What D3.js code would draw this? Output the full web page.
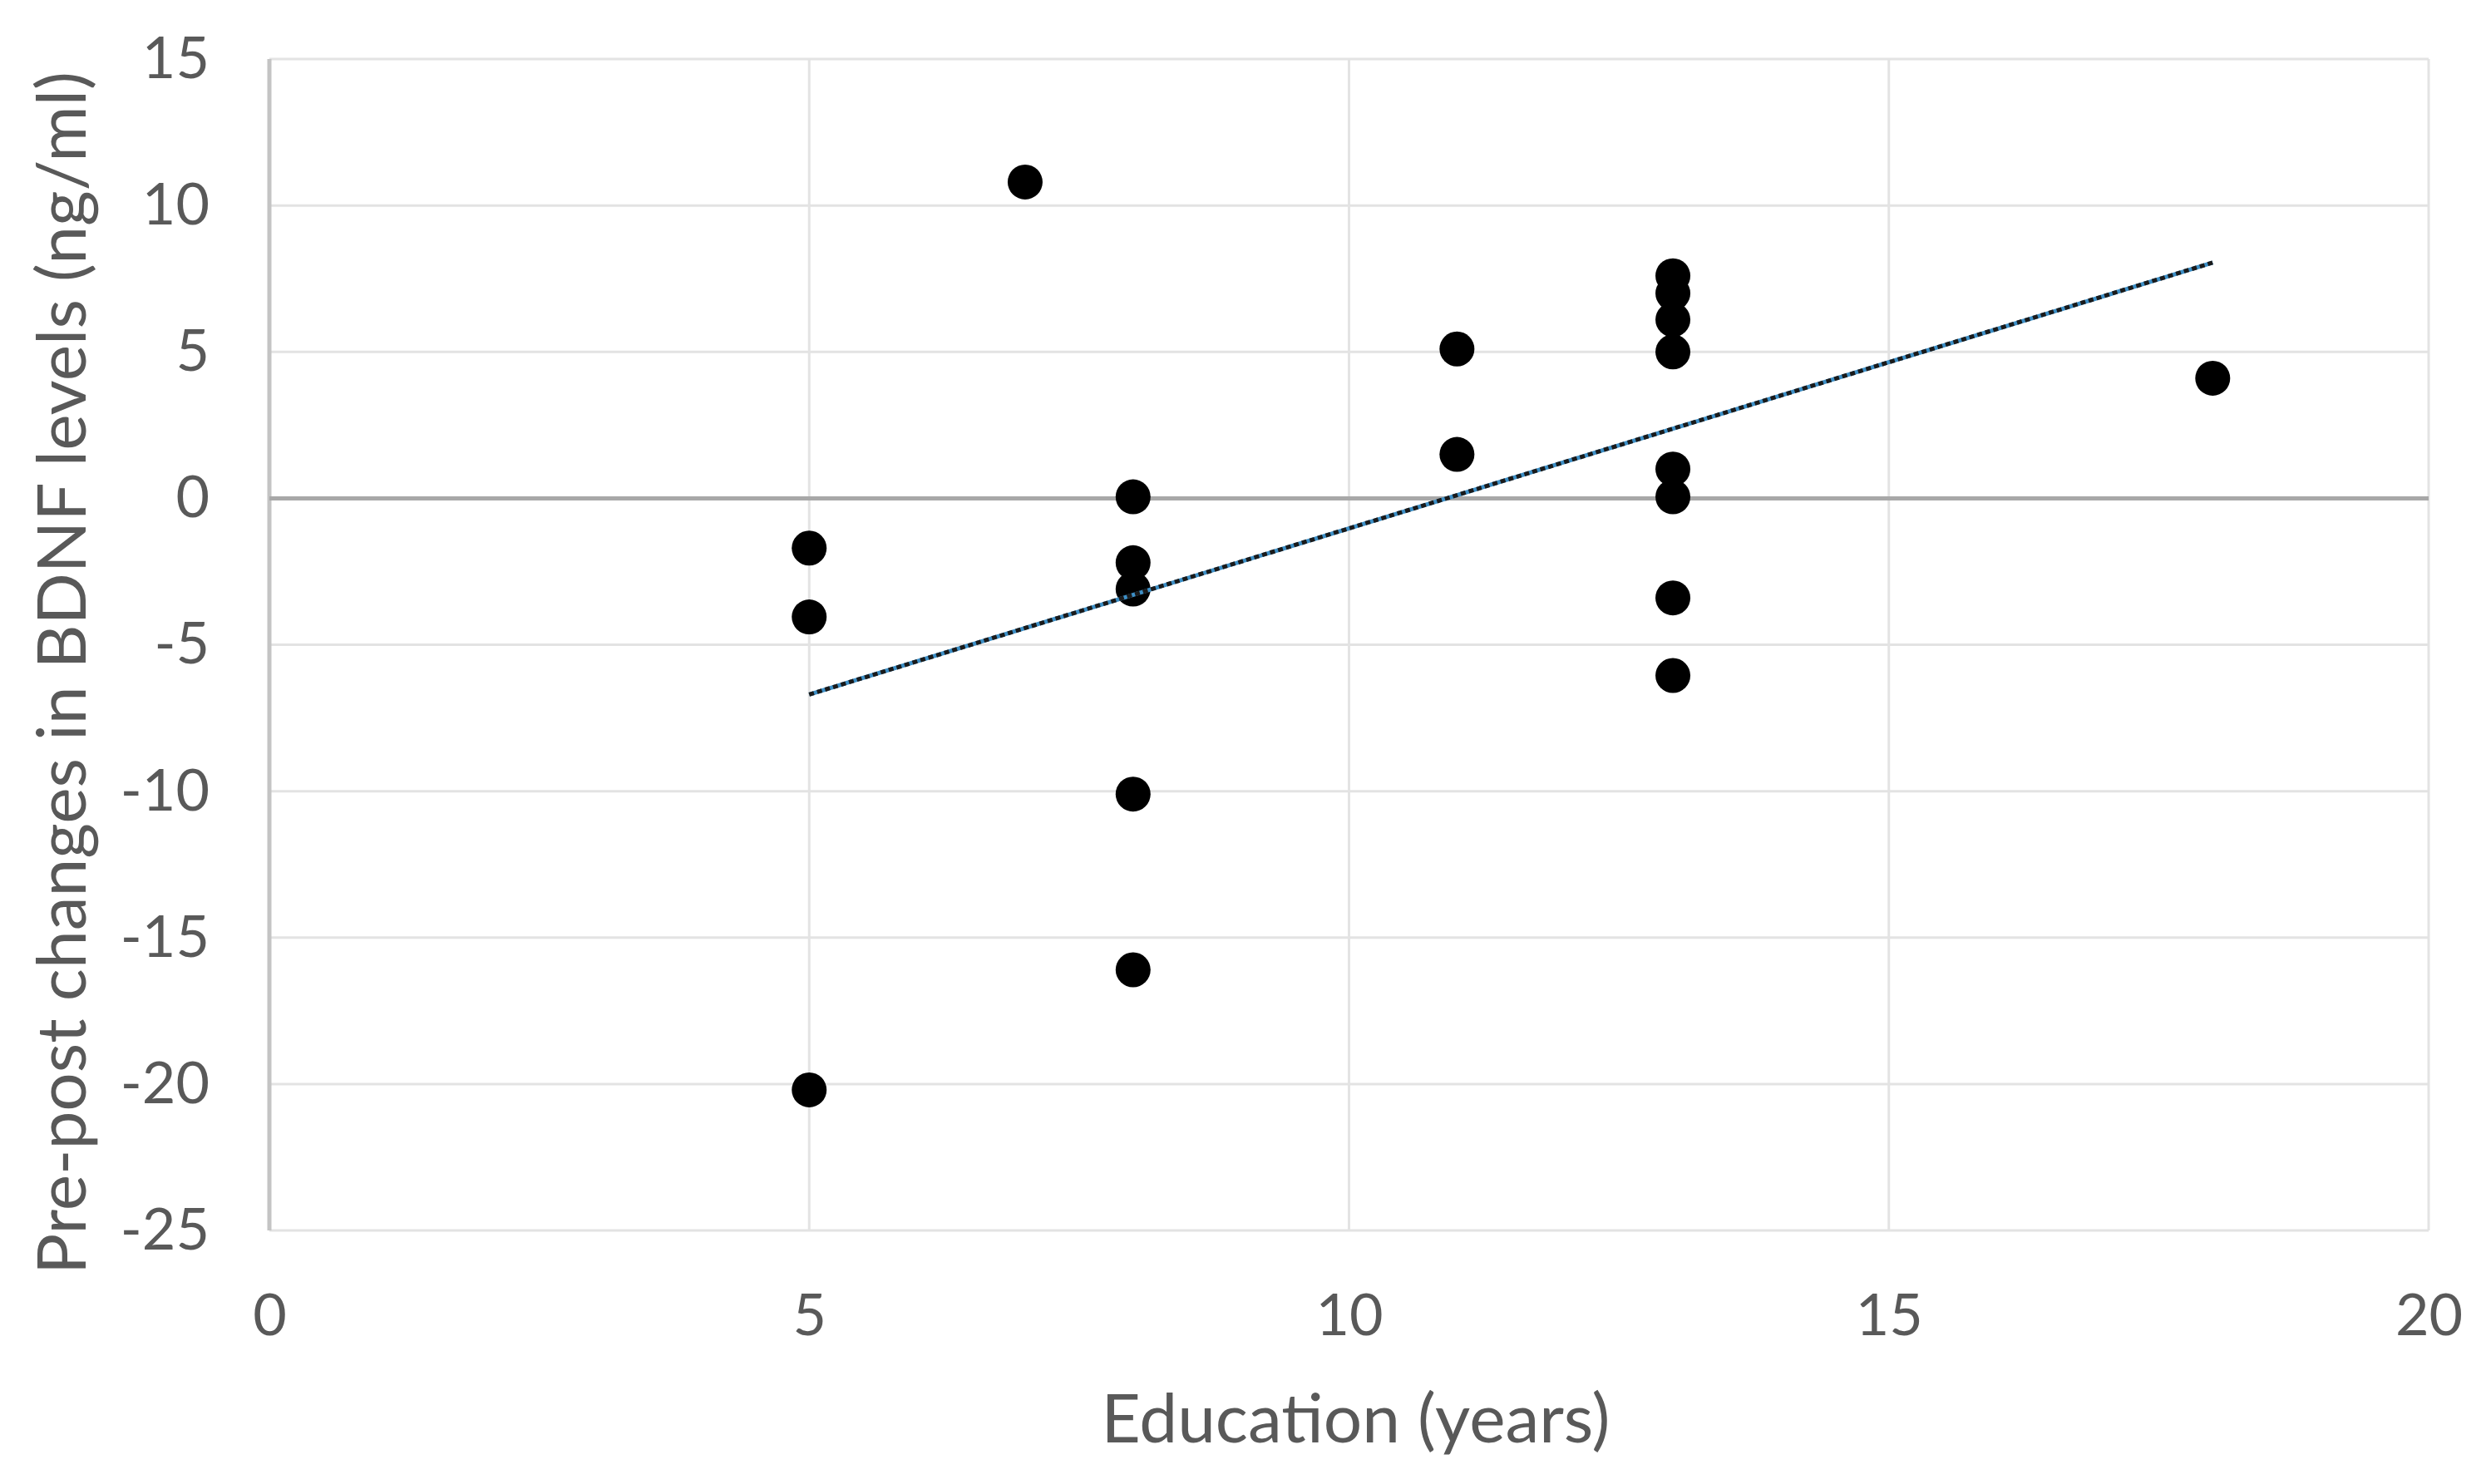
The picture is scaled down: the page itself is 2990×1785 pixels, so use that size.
<!DOCTYPE html>
<html>
<head>
<meta charset="utf-8">
<script src="https://cdn.jsdelivr.net/npm/d3@7"></script>
<style>
  body { margin: 0; background: #fff; }
  .tick text { font-family: Lato, "Open Sans", sans-serif; fill: #595959; }
</style>
</head>
<body>
<div id="svgcontainer"></div>
<script>
// education (years) and pre-post change in BDNF (ng/ml)
var eduYears = [5, 5, 5, 7, 8, 8, 8, 8, 8, 11, 11, 13, 13, 13, 13, 13, 13, 13, 13, 18];
var bdnfChange = [-1.7, -4.05, -20.2, 10.8, 0.05, -2.2, -3.1, -10.1, -16.1, 5.1, 1.5,
                  7.6, 7.0, 6.1, 5.0, 1.0, 0.05, -3.4, -6.05, 4.1];
// linear trendline end points as drawn
var trendX = [5, 18];
var trendY = [-6.7, 8.05];
var xTicks = [0, 5, 10, 15, 20];
var yTicks = [15, 10, 5, 0, -5, -10, -15, -20, -25];

var margin = {top: 71, right: 69, bottom: 305, left: 324},
    W = 2990, H = 1785,
    width = W - margin.left - margin.right,
    height = H - margin.top - margin.bottom;

var svg = d3.select("div#svgcontainer")
  .append("svg")
  .attr("width", W)
  .attr("height", H);
var g = svg.append("g")
  .attr("transform", "translate(" + margin.left + "," + margin.top + ")");

var x = d3.scaleLinear().domain([0, 20]).range([0, width]);
var y = d3.scaleLinear().domain([-25, 15]).range([height, 0]);
var fmt = function(d){ return String(d); };   // plain hyphen for negatives

// gridlines
g.append("g").selectAll("line.hg")
  .data(yTicks.filter(function(d){ return d !== 0; }))
  .enter().append("line")
  .attr("x1", 0).attr("x2", width)
  .attr("y1", function(d){ return y(d); }).attr("y2", function(d){ return y(d); })
  .style("stroke", "#e3e3e3").style("stroke-width", 3);
g.append("g").selectAll("line.vg")
  .data(xTicks.filter(function(d){ return d !== 0; }))
  .enter().append("line")
  .attr("y1", 0).attr("y2", height)
  .attr("x1", function(d){ return x(d); }).attr("x2", function(d){ return x(d); })
  .style("stroke", "#e3e3e3").style("stroke-width", 3);

// left axis line and zero line
g.append("line")
  .attr("x1", x(0)).attr("x2", x(0)).attr("y1", 0).attr("y2", height)
  .style("stroke", "#c4c4c4").style("stroke-width", 5);
g.append("line")
  .attr("x1", 0).attr("x2", width).attr("y1", y(0)).attr("y2", y(0))
  .style("stroke", "#a8a8a8").style("stroke-width", 5);

// axes: labels only
var xAxis = g.append("g")
  .attr("transform", "translate(0," + height + ")")
  .call(d3.axisBottom(x).tickValues(xTicks).tickFormat(fmt).tickSize(0).tickPadding(76));
xAxis.select(".domain").remove();
xAxis.selectAll("text").style("font-size", "70px");

var yAxis = g.append("g")
  .call(d3.axisLeft(y).tickValues(yTicks).tickFormat(fmt).tickSize(0).tickPadding(72));
yAxis.select(".domain").remove();
yAxis.selectAll("text").style("font-size", "70px");

// axis titles
g.append("text")
  .attr("x", width / 2 + 8)
  .attr("y", height + 255)
  .attr("text-anchor", "middle")
  .style("font-family", "Lato, 'Open Sans', sans-serif")
  .style("font-size", "82px")
  .style("fill", "#595959")
  .text("Education (years)");
g.append("text")
  .attr("transform", "rotate(-90)")
  .attr("x", -(y(-5) + 34))
  .attr("y", -250)
  .attr("dy", "0.35em")
  .attr("text-anchor", "middle")
  .style("font-family", "Lato, 'Open Sans', sans-serif")
  .style("font-size", "82px")
  .style("fill", "#595959")
  .text("Pre-post changes in BDNF levels (ng/ml)");

// points
var pts = eduYears.map(function(e, i){ return {x: e, y: bdnfChange[i]}; });
g.append("g").selectAll("circle")
  .data(pts)
  .enter().append("circle")
  .attr("cx", function(d){ return x(d.x); })
  .attr("cy", function(d){ return y(d.y); })
  .attr("r", 21)
  .style("fill", "#000");

// trendline (blue under black dots)
var trend = trendX.map(function(t, i){ return {x: t, y: trendY[i]}; });
var line = d3.line()
  .x(function(d){ return x(d.x); })
  .y(function(d){ return y(d.y); });
g.append("path").datum(trend)
  .attr("d", line)
  .style("fill", "none").style("stroke", "#3d8fc6").style("stroke-width", 5);
g.append("path").datum(trend)
  .attr("d", line)
  .style("fill", "none").style("stroke", "#1a1a1a").style("stroke-width", 5)
  .style("stroke-dasharray", "6,4");
</script>
</body>
</html>
